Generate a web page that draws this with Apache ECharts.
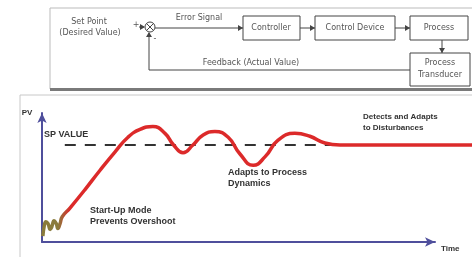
<!DOCTYPE html>
<html>
<head>
<meta charset="utf-8">
<script src="https://cdn.jsdelivr.net/npm/echarts@6/dist/echarts.min.js"></script>
<style>
  html, body { margin: 0; padding: 0; background: #fff; }
  #chart { width: 472px; height: 257px; }
</style>
</head>
<body>
<div id="chart"></div>
<script>
// process value response, time in % of span, PV with SP = 100
var timeS = [0.2, 0.5, 0.9, 1.4, 1.9, 2.3, 2.8, 3.3, 3.7, 4.2, 4.7, 6.5, 10.0, 13.5, 17.0, 20.0, 22.8, 25.8, 28.6, 30.6, 32.8, 35.1, 37.4, 40.2, 43.3, 46.0, 49.1, 51.9, 54.9, 58.8, 62.3, 65.8, 69.3, 100];
var pvValues = [6, 16, 21, 19, 13, 16, 22, 19, 14, 19, 26, 35, 54, 74, 93, 108, 116, 119, 112, 100, 92, 100, 110, 114, 108, 91, 79, 88, 105, 112, 109, 102, 100, 100];
var spValue = 100;
var spSpan = [5.3, 70];
var axisTimeMax = 91.4;
var pvMax = 133;

var chart = echarts.init(document.getElementById('chart'));

var lineCol = '#444';
var txtCol = '#555';
var font = '8px "DejaVu Sans", sans-serif';
var bold = 'bold 8px "Liberation Sans", Arial, sans-serif';
var bold9 = 'bold 9px "Liberation Sans", Arial, sans-serif';

function txt(x, y, s, f, align, col) {
    return {type: 'text', x: x, y: y, style: {text: s, font: f || font, fill: col || txtCol, align: align || 'center', verticalAlign: 'middle'}};
}
function box(x, y, w, h) {
    return {type: 'rect', shape: {x: x, y: y, width: w, height: h}, style: {fill: '#fff', stroke: lineCol, lineWidth: 1}};
}
function seg(pts) {
    return {type: 'polyline', shape: {points: pts}, style: {stroke: lineCol, lineWidth: 1, fill: null}};
}
// arrow head pointing in a direction
function head(x, y, dir) {
    var p;
    if (dir == 'r') p = [[x, y], [x - 5, y - 3], [x - 5, y + 3]];
    if (dir == 'd') p = [[x, y], [x - 3, y - 5], [x + 3, y - 5]];
    if (dir == 'u') p = [[x, y], [x - 3, y + 5], [x + 3, y + 5]];
    return {type: 'polygon', shape: {points: p}, style: {fill: lineCol}};
}

var dark = '#333';
var graphics = [
    // panels
    {type: 'rect', shape: {x: 50, y: 8, width: 430, height: 81}, style: {fill: '#fff', stroke: '#bbb', lineWidth: 1}},
    {type: 'rect', shape: {x: 50, y: 88, width: 422, height: 3}, style: {fill: '#7a7a7a'}},
    {type: 'rect', shape: {x: 20, y: 95, width: 460, height: 170}, style: {fill: '#fff', stroke: '#c8c8c8', lineWidth: 1}},
    // block diagram
    txt(89, 22, 'Set Point'),
    txt(90, 33, '(Desired Value)'),
    txt(136, 25, '+'),
    seg([[139, 27], [144, 27]]),
    head(145, 27, 'r'),
    {type: 'circle', shape: {cx: 150, cy: 27, r: 5}, style: {fill: '#fff', stroke: lineCol, lineWidth: 1}},
    seg([[146.5, 23.5], [153.5, 30.5]]),
    seg([[146.5, 30.5], [153.5, 23.5]]),
    txt(155, 39, '-'),
    seg([[155, 28], [243, 28]]),
    head(243, 28, 'r'),
    txt(199, 18, 'Error Signal'),
    box(243, 16, 57, 24),
    txt(271, 28, 'Controller'),
    seg([[300, 28], [315, 28]]),
    head(315, 28, 'r'),
    box(315, 16, 80, 24),
    txt(355, 28, 'Control Device'),
    seg([[395, 28], [410, 28]]),
    head(410, 28, 'r'),
    box(410, 16, 58, 24),
    txt(439, 28, 'Process'),
    seg([[442, 40], [442, 53]]),
    head(442, 53, 'd'),
    box(410, 53, 60, 33),
    txt(440, 63, 'Process'),
    txt(440, 75, 'Transducer'),
    seg([[410, 70], [149, 70], [149, 33]]),
    head(149, 32, 'u'),
    txt(251, 63, 'Feedback (Actual Value)'),
    // chart labels
    txt(27, 113, 'PV', bold, 'center', dark),
    txt(44, 135, 'SP VALUE', bold9, 'left', dark),
    txt(90, 211, 'Start-Up Mode', bold9, 'left', dark),
    txt(90, 222, 'Prevents Overshoot', bold9, 'left', dark),
    txt(228, 173, 'Adapts to Process', bold9, 'left', dark),
    txt(228, 184, 'Dynamics', bold9, 'left', dark),
    txt(363, 117, 'Detects and Adapts', bold, 'left', dark),
    txt(363, 128, 'to Disturbances', bold, 'left', dark),
    txt(441, 249, 'Time', bold, 'left', dark)
];

var pvData = timeS.map(function (t, i) { return [t, pvValues[i]]; });

var axisStyle = {show: true, lineStyle: {color: '#4f4f9c', width: 2}, symbol: ['none', 'arrow'], symbolSize: [7, 10]};

// olive start-up wiggle fading into red
var pvColor = {
    type: 'linear', x: 58, y: 0, x2: 70, y2: 0, global: true,
    colorStops: [{offset: 0, color: '#8a7b3c'}, {offset: 1, color: '#dc2a2a'}]
};

var option = {
    backgroundColor: '#fff',
    animation: false,
    graphic: graphics,
    grid: [
        {left: 42, right: 37, top: 242 - pvMax * 0.97, bottom: 15},
        {left: 42, right: 0, top: 242 - pvMax * 0.97, bottom: 15}
    ],
    xAxis: [
        {type: 'value', gridIndex: 0, min: 0, max: axisTimeMax, axisLine: axisStyle,
            axisTick: {show: false}, axisLabel: {show: false}, splitLine: {show: false}},
        {type: 'value', gridIndex: 1, min: 0, max: 100, show: false}
    ],
    yAxis: [
        {type: 'value', gridIndex: 0, min: 0, max: pvMax, axisLine: axisStyle,
            axisTick: {show: false}, axisLabel: {show: false}, splitLine: {show: false}},
        {type: 'value', gridIndex: 1, min: 0, max: pvMax, show: false}
    ],
    series: [
        {
            name: 'SP', type: 'line', xAxisIndex: 1, yAxisIndex: 1, symbol: 'none', z: 1,
            data: [[spSpan[0], spValue], [spSpan[1], spValue]],
            lineStyle: {color: '#333', width: 2, type: [11, 9]}
        },
        {
            name: 'PV', type: 'line', xAxisIndex: 1, yAxisIndex: 1, symbol: 'none', z: 2,
            smooth: 0.5,
            data: pvData,
            lineStyle: {width: 3.5, color: pvColor}
        }
    ]
};
chart.setOption(option);
</script>
</body>
</html>
